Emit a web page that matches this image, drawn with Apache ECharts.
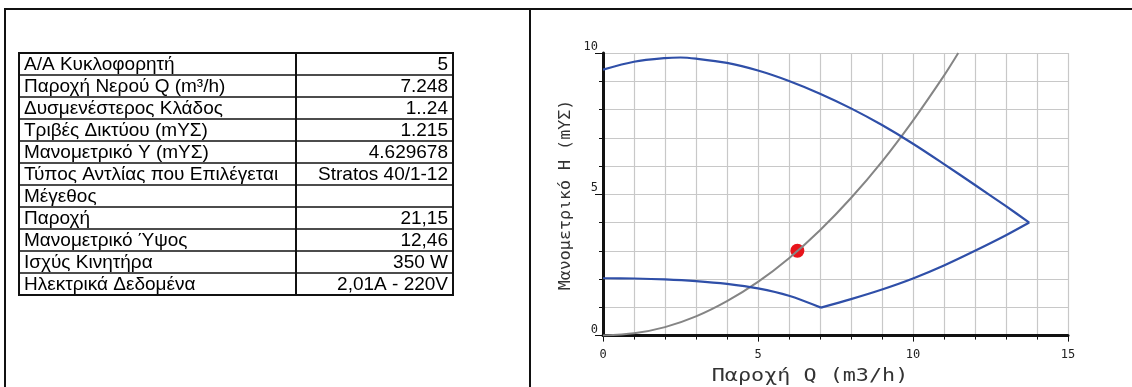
<!DOCTYPE html>
<html>
<head>
<meta charset="utf-8">
<script src="https://cdn.jsdelivr.net/npm/echarts@6/dist/echarts.min.js"></script>
<style>
html, body { margin: 0; padding: 0; background: #fff; }
#main { width: 1132px; height: 387px; }
</style>
</head>
<body>
<div id="main"></div>
<script>
// pump data sheet
const rowLabels = [
    'Α/Α Κυκλοφορητή',
    'Παροχή Νερού Q (m³/h)',
    'Δυσμενέστερος Κλάδος',
    'Τριβές Δικτύου (mYΣ)',
    'Μανομετρικό Y (mYΣ)',
    'Τύπος Αντλίας που Επιλέγεται',
    'Μέγεθος',
    'Παροχή',
    'Μανομετρικό Ύψος',
    'Ισχύς Κινητήρα',
    'Ηλεκτρικά Δεδομένα'
];
const rowValues = ['5', '7.248', '1..24', '1.215', '4.629678', 'Stratos 40/1-12', '', '21,15', '12,46', '350 W', '2,01A - 220V'];

// curves, [Q m3/h, H m]
const maxSpeedCurve = [[0, 9.41], [1, 9.69], [2, 9.82], [2.5, 9.84], [3, 9.80], [4, 9.65], [5, 9.38], [6, 9.01], [7, 8.56],
    [8, 8.04], [9, 7.45], [10, 6.79], [11, 6.07], [12, 5.33], [13, 4.58], [13.75, 4.0]];
const minSpeedCurve = [[0, 2.03], [1, 2.02], [2, 1.99], [3, 1.93], [4, 1.83], [5, 1.67], [6, 1.41], [7.03, 0.99]];
const maxFlowLine = [[7.03, 0.99], [8, 1.29], [9, 1.63], [10, 2.02], [11, 2.48], [12, 3.0], [13, 3.55], [13.75, 4.0]];
const systemCurve = [[0, 0], [1, 0.08], [2, 0.30], [3, 0.68], [4, 1.22], [5, 1.90], [6, 2.74], [7, 3.73],
    [8, 4.87], [9, 6.16], [10, 7.61], [11, 9.2], [11.46, 10]];
const dutyPoint = [[6.27, 3.0]];

const xTicks = { min: 0, max: 15, step: 5 };
const yTicks = { min: 0, max: 10, step: 5 };
const xName = 'Παροχή Q (m3/h)';
const yName = 'Μανομετρικό H (mYΣ)';

const T = { left: 19, top: 53, right: 453, split: 296, rowH: 22 };
const BLUE = '#2f4fa8';
const GRID = '#c8c8c8';
const tableFont = '19px "Liberation Sans", Arial, sans-serif';

const graphics = [
    // frame
    { type: 'line', shape: { x1: 4, y1: 9, x2: 1132, y2: 9 }, style: { stroke: '#111', lineWidth: 2 } },
    { type: 'line', shape: { x1: 5, y1: 9, x2: 5, y2: 387 }, style: { stroke: '#111', lineWidth: 2 } },
    { type: 'line', shape: { x1: 530, y1: 9, x2: 530, y2: 387 }, style: { stroke: '#111', lineWidth: 2 } },
    // table border
    { type: 'rect', shape: { x: T.left, y: T.top, width: T.right - T.left, height: T.rowH * rowLabels.length },
      style: { fill: null, stroke: '#111', lineWidth: 2 } },
    { type: 'line', shape: { x1: T.split, y1: T.top, x2: T.split, y2: T.top + T.rowH * rowLabels.length },
      style: { stroke: '#111', lineWidth: 2 } }
];
rowLabels.forEach(function (label, i) {
    const y = T.top + i * T.rowH;
    if (i > 0) {
        graphics.push({ type: 'line', shape: { x1: T.left, y1: y, x2: T.right, y2: y },
            style: { stroke: '#111', lineWidth: 1.5 } });
    }
    graphics.push({ type: 'text', x: T.left + 5, y: y + T.rowH / 2 + 1,
        style: { text: label, fill: '#000', font: tableFont, align: 'left', verticalAlign: 'middle' } });
    graphics.push({ type: 'text', x: T.right - 5, y: y + T.rowH / 2 + 1,
        style: { text: rowValues[i], fill: '#000', font: tableFont, align: 'right', verticalAlign: 'middle' } });
});
// axis names, stretched to the wide plotter lettering
graphics.push({ type: 'text', x: 810, y: 377, scaleX: 1.28,
    style: { text: xName, fill: '#333', font: '17px "DejaVu Sans Mono", monospace', align: 'center', verticalAlign: 'middle' } });
graphics.push({ type: 'text', x: 566, y: 195, rotation: Math.PI / 2, scaleX: 1.11,
    style: { text: yName, fill: '#333', font: '15px "DejaVu Sans Mono", monospace', align: 'center', verticalAlign: 'middle' } });

const monoLabel = { fontFamily: 'DejaVu Sans Mono', fontSize: 12, color: '#222' };

const option = {
    animation: false,
    backgroundColor: '#fff',
    graphic: graphics.map(function (g) { g.silent = true; return g; }),
    grid: { left: 603, top: 53, width: 465, height: 282.6, outerBoundsMode: 'none', containLabel: false },
    xAxis: {
        type: 'value',
        min: xTicks.min, max: xTicks.max, interval: xTicks.step,
        axisLine: { onZero: false, lineStyle: { color: '#111', width: 3 } },
        axisTick: { length: 6, lineStyle: { color: '#111', width: 1 } },
        minorTick: { show: true, splitNumber: 5, length: 4, lineStyle: { color: '#111', width: 1 } },
        splitLine: { show: true, lineStyle: { color: GRID, width: 1.2 } },
        minorSplitLine: { show: true, lineStyle: { color: GRID, width: 1.2 } },
        axisLabel: Object.assign({ margin: 13 }, monoLabel)
    },
    yAxis: {
        type: 'value',
        min: yTicks.min, max: yTicks.max, interval: yTicks.step,
        axisLine: { lineStyle: { color: '#111', width: 3 } },
        axisTick: { length: 8, lineStyle: { color: '#111', width: 1 } },
        minorTick: { show: true, splitNumber: 5, length: 4, lineStyle: { color: '#111', width: 1 } },
        splitLine: { show: true, lineStyle: { color: GRID, width: 1.2 } },
        minorSplitLine: { show: true, lineStyle: { color: GRID, width: 1.2 } },
        axisLabel: Object.assign({ margin: 5, verticalAlign: 'bottom' }, monoLabel)
    },
    series: [
        { type: 'line', data: systemCurve, smooth: 0.3, showSymbol: false,
          lineStyle: { color: '#858585', width: 2 } },
        { type: 'line', data: maxSpeedCurve, smooth: 0.3, showSymbol: false,
          lineStyle: { color: BLUE, width: 2.2 } },
        { type: 'line', data: minSpeedCurve, smooth: 0.3, showSymbol: false,
          lineStyle: { color: BLUE, width: 2.2 } },
        { type: 'line', data: maxFlowLine, smooth: 0.3, showSymbol: false,
          lineStyle: { color: BLUE, width: 2.2 } },
        { type: 'scatter', data: dutyPoint, symbolSize: 14, itemStyle: { color: '#e8141b', opacity: 1 } }
    ]
};

const chart = echarts.init(document.getElementById('main'));
chart.setOption(option);
</script>
</body>
</html>
